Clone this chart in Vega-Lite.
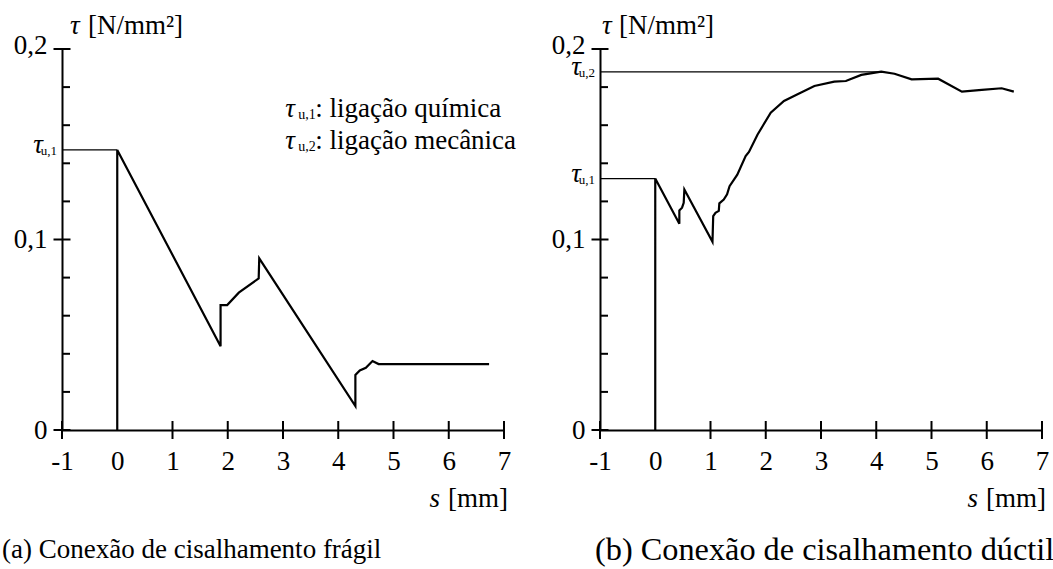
{
  "$schema": "https://vega.github.io/schema/vega-lite/v6.json",
  "autosize": {"type": "pad"},
  "padding": {"left": 2, "top": 12, "right": 0, "bottom": 0},
  "bounds": "flush",
  "spacing": 96,
  "config": {
    "font": "Liberation Serif",
    "view": {"stroke": null},
    "axis": {"grid": false, "domainColor": "black", "domainWidth": 2, "ticks": false, "tickSize": 0, "labelFont": "Liberation Serif", "labelFontSize": 27, "labelColor": "black", "labelFlush": false, "labelOverlap": false},
    "text": {"font": "Liberation Serif", "color": "black"}
  },
  "datasets": {
    "curveA": [
      {"i": 0, "s": 0, "tau": 0},
      {"i": 1, "s": 0, "tau": 0.147},
      {"i": 2, "s": 1.87, "tau": 0.044},
      {"i": 3, "s": 1.87, "tau": 0.0656},
      {"i": 4, "s": 1.99, "tau": 0.0656},
      {"i": 5, "s": 2.2, "tau": 0.0721},
      {"i": 6, "s": 2.56, "tau": 0.0796},
      {"i": 7, "s": 2.57, "tau": 0.0901},
      {"i": 8, "s": 4.31, "tau": 0.0126},
      {"i": 9, "s": 4.31, "tau": 0.0289},
      {"i": 10, "s": 4.39, "tau": 0.0313},
      {"i": 11, "s": 4.5, "tau": 0.0327},
      {"i": 12, "s": 4.62, "tau": 0.0362},
      {"i": 13, "s": 4.73, "tau": 0.0346},
      {"i": 14, "s": 6.73, "tau": 0.0346}
    ],
    "curveB": [
      {"i": 0, "s": 0, "tau": 0},
      {"i": 1, "s": 0, "tau": 0.132},
      {"i": 2, "s": 0.436, "tau": 0.1083},
      {"i": 3, "s": 0.436, "tau": 0.1153},
      {"i": 4, "s": 0.485, "tau": 0.1167},
      {"i": 5, "s": 0.515, "tau": 0.1193},
      {"i": 6, "s": 0.527, "tau": 0.1263},
      {"i": 7, "s": 1.036, "tau": 0.0988},
      {"i": 8, "s": 1.049, "tau": 0.1123},
      {"i": 9, "s": 1.09, "tau": 0.114},
      {"i": 10, "s": 1.15, "tau": 0.115},
      {"i": 11, "s": 1.16, "tau": 0.119},
      {"i": 12, "s": 1.24, "tau": 0.121},
      {"i": 13, "s": 1.3, "tau": 0.1237},
      {"i": 14, "s": 1.345, "tau": 0.128},
      {"i": 15, "s": 1.485, "tau": 0.134},
      {"i": 16, "s": 1.636, "tau": 0.1438},
      {"i": 17, "s": 1.696, "tau": 0.146},
      {"i": 18, "s": 1.85, "tau": 0.155},
      {"i": 19, "s": 2.09, "tau": 0.1666},
      {"i": 20, "s": 2.33, "tau": 0.1727},
      {"i": 21, "s": 2.576, "tau": 0.1762},
      {"i": 22, "s": 2.88, "tau": 0.1806},
      {"i": 23, "s": 3.24, "tau": 0.1829},
      {"i": 24, "s": 3.45, "tau": 0.1832},
      {"i": 25, "s": 3.73, "tau": 0.1864},
      {"i": 26, "s": 4.09, "tau": 0.1881},
      {"i": 27, "s": 4.33, "tau": 0.187},
      {"i": 28, "s": 4.64, "tau": 0.1841},
      {"i": 29, "s": 5.12, "tau": 0.1844},
      {"i": 30, "s": 5.55, "tau": 0.1776},
      {"i": 31, "s": 5.91, "tau": 0.1785},
      {"i": 32, "s": 6.27, "tau": 0.1794},
      {"i": 33, "s": 6.49, "tau": 0.1776}
    ],
    "refA": [{"s0": -1, "s1": 0, "tau": 0.147}],
    "refB": [{"s0": -1, "s1": 0, "tau": 0.132}, {"s0": -1, "s1": 4.09, "tau": 0.188}],
    "yminor": [{"tau": 0.02}, {"tau": 0.04}, {"tau": 0.06}, {"tau": 0.08}, {"tau": 0.12}, {"tau": 0.14}, {"tau": 0.16}, {"tau": 0.18}],
    "ymajor": [{"tau": 0}, {"tau": 0.1}, {"tau": 0.2}],
    "xticks": [{"s": -1}, {"s": 1}, {"s": 2}, {"s": 3}, {"s": 4}, {"s": 5}, {"s": 6}, {"s": 7}],
    "tauLabelsA": [{"tau": 0.147, "sub": "u,1"}],
    "tauLabelsB": [{"tau": 0.188, "sub": "u,2"}, {"tau": 0.132, "sub": "u,1"}],
    "legendA": [
      {"s": 3.04, "tau": 0.1643, "sub": "u,1", "rest": ": ligação química"},
      {"s": 3.04, "tau": 0.1475, "sub": "u,2", "rest": ": ligação mecânica"}
    ]
  },
  "hconcat": [
    {
      "width": 442,
      "height": 381,
      "layer": [
        {
          "data": {"name": "curveA"},
          "mark": {"type": "line", "color": "black", "strokeWidth": 2.2, "strokeJoin": "miter"},
          "encoding": {
            "x": {"field": "s", "type": "quantitative", "title": null, "scale": {"domain": [-1, 7], "nice": false, "zero": false},
              "axis": {"values": [-1, 0, 1, 2, 3, 4, 5, 6, 7], "labelExpr": "'' + datum.value", "title": null, "labelPadding": 18}},
            "y": {"field": "tau", "type": "quantitative", "title": null, "scale": {"domain": [0, 0.2], "nice": false, "zero": false},
              "axis": {"values": [0, 0.1, 0.2], "labelExpr": "replace('' + datum.value, '.', ',')", "title": null, "labelPadding": 15, "labelOffset": {"condition": {"test": "datum.value == 0.2", "value": -4}, "value": 0}}},
            "order": {"field": "i"}
          }
        },
        {
          "data": {"name": "refA"},
          "mark": {"type": "rule", "color": "black", "strokeWidth": 1.2},
          "encoding": {
            "x": {"field": "s0", "type": "quantitative", "title": null},
            "x2": {"field": "s1"},
            "y": {"field": "tau", "type": "quantitative", "title": null}
          }
        },
        {
          "data": {"name": "yminor"},
          "mark": {"type": "tick", "orient": "horizontal", "size": 8, "thickness": 2, "xOffset": 4, "color": "black", "opacity": 1},
          "encoding": {"x": {"datum": -1}, "y": {"field": "tau", "type": "quantitative", "title": null}}
        },
        {
          "data": {"name": "ymajor"},
          "mark": {"type": "tick", "orient": "horizontal", "size": 17, "thickness": 2, "color": "black", "opacity": 1},
          "encoding": {"x": {"datum": -1}, "y": {"field": "tau", "type": "quantitative", "title": null}}
        },
        {
          "data": {"name": "xticks"},
          "mark": {"type": "tick", "orient": "vertical", "size": 18, "thickness": 2, "color": "black", "opacity": 1},
          "encoding": {"x": {"field": "s", "type": "quantitative", "title": null}, "y": {"datum": 0}}
        },
        {
          "data": {"name": "tauLabelsA"},
          "mark": {"type": "text", "text": "τ", "font": "Liberation Serif", "fontStyle": "italic", "fontSize": 27, "align": "right", "baseline": "alphabetic", "dx": -19, "dy": 3},
          "encoding": {"x": {"datum": -1}, "y": {"field": "tau", "type": "quantitative", "title": null}}
        },
        {
          "data": {"name": "tauLabelsA"},
          "mark": {"type": "text", "font": "Liberation Serif", "fontSize": 13, "align": "right", "baseline": "alphabetic", "dx": -5, "dy": 5},
          "encoding": {"x": {"datum": -1}, "y": {"field": "tau", "type": "quantitative", "title": null}, "text": {"field": "sub"}}
        },
        {
          "data": {"values": [{}]},
          "mark": {"type": "text", "text": "τ", "font": "Liberation Serif", "fontStyle": "italic", "fontSize": 27, "align": "left", "baseline": "alphabetic", "dx": 8, "dy": -15},
          "encoding": {"x": {"datum": -1}, "y": {"datum": 0.2}}
        },
        {
          "data": {"values": [{}]},
          "mark": {"type": "text", "text": "[N/mm²]", "font": "Liberation Serif", "fontSize": 27, "align": "left", "baseline": "alphabetic", "dx": 26, "dy": -15},
          "encoding": {"x": {"datum": -1}, "y": {"datum": 0.2}}
        },
        {
          "data": {"values": [{}]},
          "mark": {"type": "text", "text": "[mm]", "font": "Liberation Serif", "fontSize": 27, "align": "right", "baseline": "alphabetic", "dx": 4, "dy": 77},
          "encoding": {"x": {"datum": 7}, "y": {"datum": 0}}
        },
        {
          "data": {"values": [{}]},
          "mark": {"type": "text", "text": "s", "font": "Liberation Serif", "fontStyle": "italic", "fontSize": 27, "align": "right", "baseline": "alphabetic", "dx": -64, "dy": 77},
          "encoding": {"x": {"datum": 7}, "y": {"datum": 0}}
        },
        {
          "data": {"values": [{}]},
          "mark": {"type": "text", "text": "(a) Conexão de cisalhamento frágil", "font": "Liberation Serif", "fontSize": 27, "align": "left", "baseline": "alphabetic", "dx": -60, "dy": 128},
          "encoding": {"x": {"datum": -1}, "y": {"datum": 0}}
        },
        {
          "data": {"name": "legendA"},
          "mark": {"type": "text", "text": "τ", "font": "Liberation Serif", "fontStyle": "italic", "fontSize": 27, "align": "left", "baseline": "alphabetic"},
          "encoding": {"x": {"field": "s", "type": "quantitative", "title": null}, "y": {"field": "tau", "type": "quantitative", "title": null}}
        },
        {
          "data": {"name": "legendA"},
          "mark": {"type": "text", "font": "Liberation Serif", "fontSize": 14, "align": "left", "baseline": "alphabetic", "dx": 13, "dy": 2},
          "encoding": {"x": {"field": "s", "type": "quantitative", "title": null}, "y": {"field": "tau", "type": "quantitative", "title": null}, "text": {"field": "sub"}}
        },
        {
          "data": {"name": "legendA"},
          "mark": {"type": "text", "font": "Liberation Serif", "fontSize": 27, "align": "left", "baseline": "alphabetic", "dx": 30},
          "encoding": {"x": {"field": "s", "type": "quantitative", "title": null}, "y": {"field": "tau", "type": "quantitative", "title": null}, "text": {"field": "rest"}}
        }
      ]
    },
    {
      "width": 442,
      "height": 381,
      "layer": [
        {
          "data": {"name": "curveB"},
          "mark": {"type": "line", "color": "black", "strokeWidth": 2.2, "strokeJoin": "miter"},
          "encoding": {
            "x": {"field": "s", "type": "quantitative", "title": null, "scale": {"domain": [-1, 7], "nice": false, "zero": false},
              "axis": {"values": [-1, 0, 1, 2, 3, 4, 5, 6, 7], "labelExpr": "'' + datum.value", "title": null, "labelPadding": 18}},
            "y": {"field": "tau", "type": "quantitative", "title": null, "scale": {"domain": [0, 0.2], "nice": false, "zero": false},
              "axis": {"values": [0, 0.1, 0.2], "labelExpr": "replace('' + datum.value, '.', ',')", "title": null, "labelPadding": 15, "labelOffset": {"condition": {"test": "datum.value == 0.2", "value": -4}, "value": 0}}},
            "order": {"field": "i"}
          }
        },
        {
          "data": {"name": "refB"},
          "mark": {"type": "rule", "color": "black", "strokeWidth": 1.2},
          "encoding": {
            "x": {"field": "s0", "type": "quantitative", "title": null},
            "x2": {"field": "s1"},
            "y": {"field": "tau", "type": "quantitative", "title": null}
          }
        },
        {
          "data": {"name": "yminor"},
          "mark": {"type": "tick", "orient": "horizontal", "size": 8, "thickness": 2, "xOffset": 4, "color": "black", "opacity": 1},
          "encoding": {"x": {"datum": -1}, "y": {"field": "tau", "type": "quantitative", "title": null}}
        },
        {
          "data": {"name": "ymajor"},
          "mark": {"type": "tick", "orient": "horizontal", "size": 17, "thickness": 2, "color": "black", "opacity": 1},
          "encoding": {"x": {"datum": -1}, "y": {"field": "tau", "type": "quantitative", "title": null}}
        },
        {
          "data": {"name": "xticks"},
          "mark": {"type": "tick", "orient": "vertical", "size": 18, "thickness": 2, "color": "black", "opacity": 1},
          "encoding": {"x": {"field": "s", "type": "quantitative", "title": null}, "y": {"datum": 0}}
        },
        {
          "data": {"name": "tauLabelsB"},
          "mark": {"type": "text", "text": "τ", "font": "Liberation Serif", "fontStyle": "italic", "fontSize": 27, "align": "right", "baseline": "alphabetic", "dx": -19, "dy": 3},
          "encoding": {"x": {"datum": -1}, "y": {"field": "tau", "type": "quantitative", "title": null}}
        },
        {
          "data": {"name": "tauLabelsB"},
          "mark": {"type": "text", "font": "Liberation Serif", "fontSize": 13, "align": "right", "baseline": "alphabetic", "dx": -5, "dy": 5},
          "encoding": {"x": {"datum": -1}, "y": {"field": "tau", "type": "quantitative", "title": null}, "text": {"field": "sub"}}
        },
        {
          "data": {"values": [{}]},
          "mark": {"type": "text", "text": "τ", "font": "Liberation Serif", "fontStyle": "italic", "fontSize": 27, "align": "left", "baseline": "alphabetic", "dx": 2, "dy": -15},
          "encoding": {"x": {"datum": -1}, "y": {"datum": 0.2}}
        },
        {
          "data": {"values": [{}]},
          "mark": {"type": "text", "text": "[N/mm²]", "font": "Liberation Serif", "fontSize": 27, "align": "left", "baseline": "alphabetic", "dx": 19, "dy": -15},
          "encoding": {"x": {"datum": -1}, "y": {"datum": 0.2}}
        },
        {
          "data": {"values": [{}]},
          "mark": {"type": "text", "text": "[mm]", "font": "Liberation Serif", "fontSize": 27, "align": "right", "baseline": "alphabetic", "dx": 4, "dy": 77},
          "encoding": {"x": {"datum": 7}, "y": {"datum": 0}}
        },
        {
          "data": {"values": [{}]},
          "mark": {"type": "text", "text": "s", "font": "Liberation Serif", "fontStyle": "italic", "fontSize": 27, "align": "right", "baseline": "alphabetic", "dx": -64, "dy": 77},
          "encoding": {"x": {"datum": 7}, "y": {"datum": 0}}
        },
        {
          "data": {"values": [{}]},
          "mark": {"type": "text", "text": "(b) Conexão de cisalhamento dúctil", "font": "Liberation Serif", "fontSize": 32.3, "align": "left", "baseline": "alphabetic", "dx": -5, "dy": 130},
          "encoding": {"x": {"datum": -1}, "y": {"datum": 0}}
        }
      ]
    }
  ]
}
